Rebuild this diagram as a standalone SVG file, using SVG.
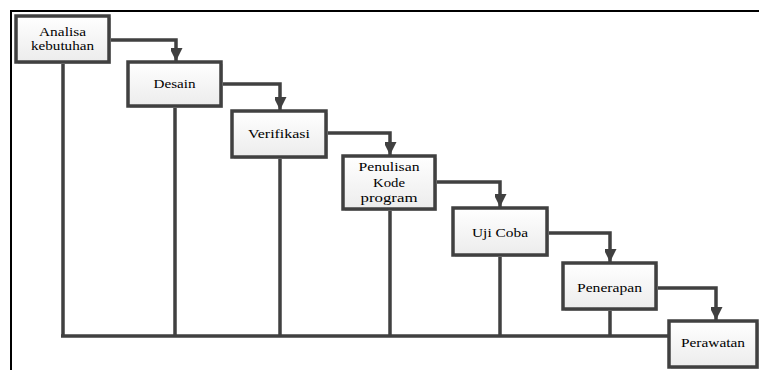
<svg xmlns="http://www.w3.org/2000/svg" width="759" height="370" viewBox="0 0 759 370">
<style>
.box{fill:url(#g);stroke:#404040;stroke-width:3.5}
.sh{fill:#cfcfcf}
.t{font-family:"Liberation Serif","DejaVu Serif",serif;font-size:12.5px;fill:#000;text-anchor:middle}
.ln{fill:none;stroke:#404040;stroke-width:3.5}
.ar{fill:none;stroke:#404040;stroke-width:3.5;marker-end:url(#ah)}
</style>
<defs>
<linearGradient id="g" x1="0" y1="0" x2="0" y2="1">
<stop offset="0" stop-color="#ffffff"/>
<stop offset="1" stop-color="#ececec"/>
</linearGradient>
<marker id="ah" markerUnits="userSpaceOnUse" markerWidth="14" markerHeight="12" refX="13" refY="6.5" orient="auto">
<path d="M0,0 L13,6.5 L0,13 Z" fill="#404040"/>
</marker>
</defs>
<rect width="759" height="370" fill="#fff"/>
<path d="M11,370 V11 H759" fill="none" stroke="#000" stroke-width="2"/>
<g id="connectors">
<path class="ln" d="M63,62 V336 M175,106 V336 M280,157 V336 M390,209 V336 M500,255 V336 M610,309 V336 M61,336 H669"/>
<path class="ar" d="M109,40 H176 V61"/>
<path class="ar" d="M221,84 H280 V110"/>
<path class="ar" d="M327,133 H390 V155"/>
<path class="ar" d="M435,182 H500 V207"/>
<path class="ar" d="M547,233 H610 V262"/>
<path class="ar" d="M656,288 H716 V320"/>
</g>
<g id="n1"><rect class="sh" x="18" y="18" width="93" height="46"/><rect class="box" x="16" y="16" width="93" height="46"/>
<text class="t" x="62.5" y="35.5" textLength="47" lengthAdjust="spacingAndGlyphs">Analisa</text>
<text class="t" x="62.5" y="49.5" textLength="63" lengthAdjust="spacingAndGlyphs">kebutuhan</text></g>
<g id="n2"><rect class="sh" x="130" y="64" width="93" height="44"/><rect class="box" x="128" y="62" width="93" height="44"/>
<text class="t" x="174.5" y="88" textLength="42" lengthAdjust="spacingAndGlyphs">Desain</text></g>
<g id="n3"><rect class="sh" x="234" y="113" width="94" height="46"/><rect class="box" x="232" y="111" width="94" height="46"/>
<text class="t" x="279" y="137.5" textLength="62" lengthAdjust="spacingAndGlyphs">Verifikasi</text></g>
<g id="n4"><rect class="sh" x="345" y="158" width="92" height="53"/><rect class="box" x="343" y="156" width="92" height="53"/>
<text class="t" x="389" y="171" textLength="61" lengthAdjust="spacingAndGlyphs">Penulisan</text>
<text class="t" x="389" y="186.5" textLength="32" lengthAdjust="spacingAndGlyphs">Kode</text>
<text class="t" x="389" y="201.5" textLength="57" lengthAdjust="spacingAndGlyphs">program</text></g>
<g id="n5"><rect class="sh" x="455" y="210" width="94" height="47"/><rect class="box" x="453" y="208" width="94" height="47"/>
<text class="t" x="500" y="237" textLength="56" lengthAdjust="spacingAndGlyphs">Uji Coba</text></g>
<g id="n6"><rect class="sh" x="565" y="265" width="93" height="46"/><rect class="box" x="563" y="263" width="93" height="46"/>
<text class="t" x="609.5" y="292" textLength="65" lengthAdjust="spacingAndGlyphs">Penerapan</text></g>
<g id="n7"><rect class="sh" x="671" y="323" width="88" height="46"/><rect class="box" x="669" y="321" width="88" height="46"/>
<text class="t" x="713" y="347" textLength="64" lengthAdjust="spacingAndGlyphs">Perawatan</text></g>
</svg>
